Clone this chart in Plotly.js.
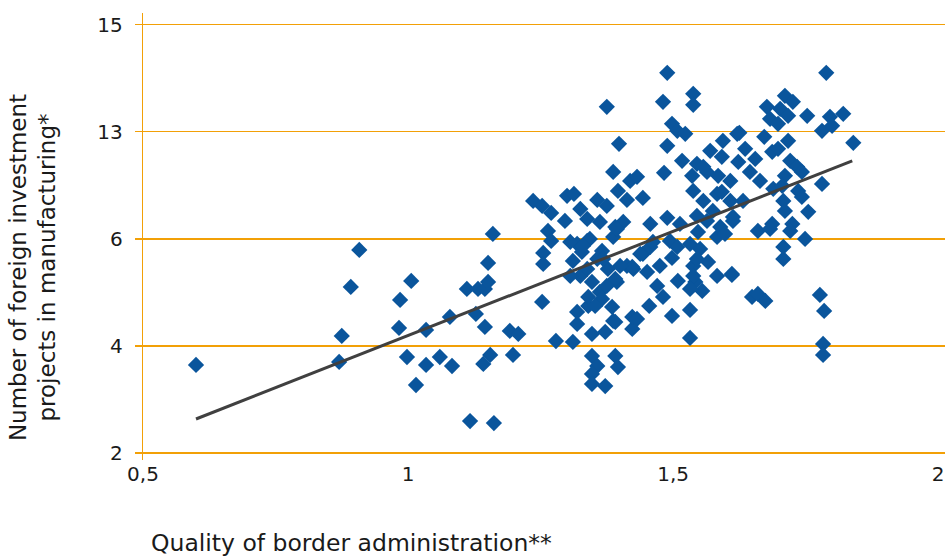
<!DOCTYPE html>
<html>
<head>
<meta charset="utf-8">
<script src="https://cdn.plot.ly/plotly-3.0.1.min.js"></script>
<style>html,body{margin:0;padding:0;background:#fff;}#chart{width:945px;height:557px;}</style>
</head>
<body>
<div id="chart"></div>
<script>
// Quality of border administration (x) for each country-sector observation
const borderQuality = [
0.600,0.870,0.875,0.892,0.908,0.985,1.006,0.983,0.998,1.015,1.034,1.034,1.060,1.083,1.079,1.111,1.132,1.145,1.151,1.160,
1.151,1.128,1.145,1.155,1.142,1.117,1.162,1.192,1.208,1.198,
1.236,1.253,1.270,1.296,1.300,1.264,1.270,1.255,1.255,1.253,1.279,1.311,1.375,1.398,1.387,1.419,1.396,1.413,1.313,1.325,
1.338,1.357,1.375,1.319,1.338,1.391,1.406,1.362,1.366,1.387,1.432,1.311,1.328,1.357,1.377,1.394,1.347,1.325,1.362,1.413,
1.425,1.306,1.306,1.343,1.394,1.368,1.338,1.347,1.372,1.319,1.319,1.340,1.366,1.385,1.387,1.347,1.357,1.347,1.347,1.372,
1.391,1.396,1.423,1.423,1.375,
1.489,1.481,1.538,1.538,1.498,1.508,1.523,1.489,1.517,1.483,1.545,1.570,1.594,1.621,1.592,1.536,1.564,1.538,1.443,1.489,
1.457,1.513,1.557,1.583,1.608,1.575,1.608,1.613,1.589,1.564,1.557,1.585,1.592,1.545,1.532,1.532,1.498,1.455,1.481,1.432,
1.470,1.451,1.423,1.509,1.542,1.555,1.538,1.566,1.583,1.611,1.498,1.475,1.443,1.457,1.494,1.532,1.551,1.583,1.598,1.547,
1.789,1.711,1.726,1.677,1.702,1.683,1.698,1.717,1.753,1.796,1.821,1.781,1.800,1.840,1.625,1.672,1.717,1.636,1.687,1.698,
1.655,1.623,1.721,1.734,1.743,1.711,1.645,1.664,1.781,1.689,1.706,1.736,1.743,1.708,1.711,1.755,1.632,1.613,1.725,1.687,
1.660,1.749,1.708,1.708,1.683,1.721,1.611,1.649,1.660,1.674,1.777,1.785,1.783,1.783,1.545,1.508,1.462,1.438,1.400,1.391,
1.340,1.353,1.391,1.330,1.538,1.532
];
// Number of foreign investment projects in manufacturing (y, in axis position units)
const fdiProjects = [
3.645,3.701,4.187,5.103,5.794,4.860,5.215,4.336,3.794,3.271,4.299,3.645,3.794,3.626,4.542,5.065,5.065,5.065,5.196,6.093,
5.551,4.598,4.355,3.832,3.664,2.598,2.561,4.280,4.224,3.832,
6.710,6.617,6.486,6.336,6.804,6.150,5.963,5.738,5.533,4.822,4.093,4.075,8.467,7.776,7.252,7.084,6.897,6.729,6.841,6.561,
6.374,6.729,6.617,5.907,5.963,6.224,6.318,6.318,5.776,6.037,7.159,5.589,5.757,5.626,5.439,5.196,5.196,5.308,5.009,5.495,
5.439,5.308,5.944,6.000,6.187,5.626,5.439,4.224,4.262,4.411,4.636,4.748,4.879,4.729,4.467,3.813,3.626,3.477,3.290,3.252,
3.813,3.607,4.318,4.542,5.121,
9.103,8.561,8.710,8.505,8.150,8.019,7.963,7.738,7.458,7.234,7.402,7.645,7.832,7.963,7.533,7.178,7.252,6.897,6.766,6.393,
6.280,6.280,6.710,6.841,7.084,6.523,6.710,6.336,6.224,6.336,7.346,7.178,6.879,6.430,4.150,4.673,4.561,4.748,4.916,4.505,
5.121,5.383,5.477,5.215,5.196,5.028,5.495,5.570,5.308,5.327,5.645,5.495,5.720,5.850,5.963,5.907,5.813,6.037,6.093,6.131,
9.103,8.673,8.561,8.467,8.430,8.243,8.150,8.299,8.299,8.280,8.336,8.019,8.112,7.794,7.981,7.907,7.832,7.682,7.626,7.682,
7.495,7.439,7.458,7.346,7.252,7.178,7.252,7.084,7.028,6.935,6.991,6.897,6.785,6.710,6.523,6.505,6.710,6.411,6.280,6.280,
6.150,6.000,5.850,5.626,6.187,6.150,5.346,4.916,4.972,4.841,4.953,4.654,4.037,3.832,5.626,5.850,5.944,5.720,5.495,5.252,
4.916,4.748,4.449,5.869,5.308,5.065
];
// Fitted trend line end points
const trendX = [0.600, 1.838];
const trendY = [2.636, 7.458];

const xTickVals = [0.5, 1, 1.5, 2];
const xTickText = ['0,5', '1', '1,5', '2'];
const yTickVals = [2, 4, 6, 8, 10];
const yTickText = ['2', '4', '6', '13', '15'];

const xTitle = 'Quality of border administration**';
const yTitle = 'Number of foreign investment<br>projects in manufacturing*';

const orange = '#F2A007';
const fam = '"DejaVu Sans", Verdana, sans-serif';
const font = {family: fam, size: 20, color: '#1a1a1a'};

const traces = [
  {type: 'scatter', mode: 'markers', x: borderQuality, y: fdiProjects,
   marker: {symbol: 'diamond', size: 12.5, color: '#0A559C', line: {width: 0}},
   hoverinfo: 'x+y', showlegend: false},
  {type: 'scatter', mode: 'lines', x: trendX, y: trendY,
   line: {color: '#404040', width: 3}, showlegend: false}
];

const layout = {
  width: 945, height: 557,
  margin: {l: 143, r: 0, t: 13, b: 97, pad: 0},
  paper_bgcolor: '#fff', plot_bgcolor: '#fff',
  font: font,
  showlegend: false,
  xaxis: {
    range: [0.5, 2.013], tickvals: xTickVals, ticktext: xTickText,
    showgrid: false, zeroline: false, showline: false, ticks: '',
    tickfont: font, fixedrange: true
  },
  yaxis: {
    range: [1.87, 10.22], tickvals: yTickVals, ticktext: yTickText,
    showgrid: true, gridcolor: orange, gridwidth: 1.3,
    zeroline: false, showline: true, linecolor: orange, linewidth: 1.3,
    ticks: 'outside', ticklen: 7, tickcolor: orange, tickwidth: 1.3,
    ticklabelstandoff: 8,
    tickfont: font, fixedrange: true
  },
  annotations: [
    {text: xTitle, xref: 'paper', yref: 'paper', x: 0.2594, y: -0.186,
     xanchor: 'center', yanchor: 'middle', showarrow: false,
     font: {family: fam, size: 23.5, color: '#1a1a1a'}},
    {text: yTitle, xref: 'paper', yref: 'paper', x: -0.138, y: 0.43,
     xanchor: 'center', yanchor: 'middle', showarrow: false, textangle: -90,
     font: {family: fam, size: 23, color: '#1a1a1a'}}
  ]
};

Plotly.newPlot('chart', traces, layout, {displayModeBar: false, staticPlot: true});
</script>
</body>
</html>
